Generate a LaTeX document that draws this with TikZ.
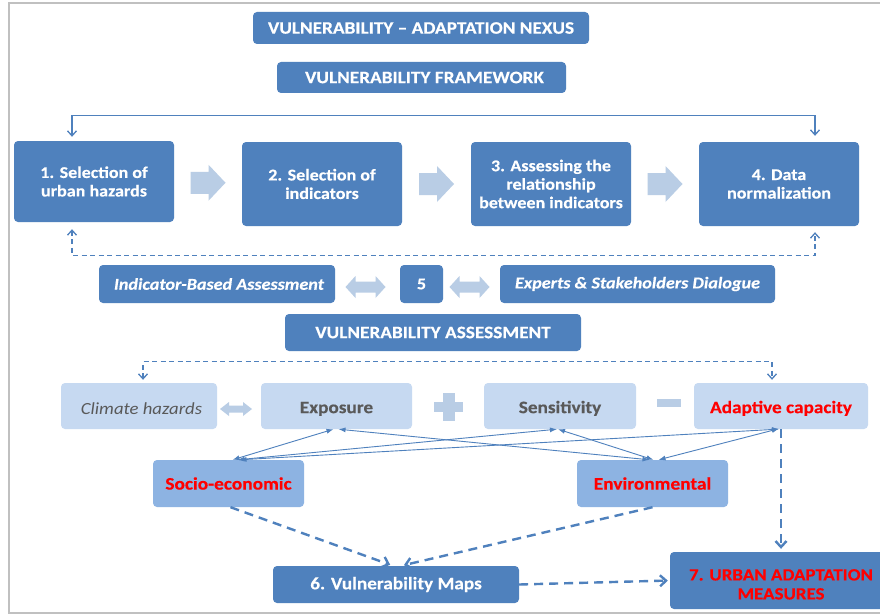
\documentclass[tikz,border=0pt]{standalone}
\usepackage{fontspec}
\setmainfont{Carlito}[FakeStretch=1.1, BoldFeatures={FakeBold=0.3}, BoldItalicFeatures={FakeBold=0.3}]
\usetikzlibrary{arrows.meta,calc}
\definecolor{dblue}{HTML}{4F81BD}
\definecolor{larrow}{HTML}{B9CDE5}
\definecolor{lboxc}{HTML}{C6D9F1}
\definecolor{mboxc}{HTML}{8DB3E2}
\definecolor{greyt}{HTML}{595959}
\definecolor{framec}{HTML}{C0C0C0}
\definecolor{redt}{HTML}{FF0000}
\newcommand{\lowr}[1]{\rule{0pt}{#1}}
\begin{document}
\begin{tikzpicture}[x=1pt,y=-1pt,
  dbox/.style={fill=dblue, rounded corners=4pt, text=white, font=\bfseries\fontsize{16.4}{18.5}\selectfont, align=center, inner sep=0pt},
  tbox/.style={dbox, font=\bfseries\fontsize{17.5}{19}\selectfont},
  ibox/.style={dbox, font=\bfseries\itshape\fontsize{16.5}{18}\selectfont},
  lbox/.style={fill=lboxc, rounded corners=4pt, text=greyt, font=\bfseries\fontsize{17.5}{19}\selectfont, inner sep=0pt},
  mbox/.style={fill=mboxc, rounded corners=4pt, text=redt, font=\bfseries\fontsize{17.6}{19}\selectfont, inner sep=0pt},
  tconn/.style={draw=dblue, line width=0.9pt, {Latex[length=7pt,width=5pt]}-{Latex[length=7pt,width=5pt]}},
  fconn/.style={draw=dblue, line width=1.3pt, {Straight Barb[length=5pt,width=9pt]}-{Straight Barb[length=5pt,width=9pt]}},
  dconn/.style={fconn, dash pattern=on 5pt off 3.5pt},
  bconn/.style={draw=dblue, line width=2.4pt, dash pattern=on 9pt off 6pt, -{Straight Barb[length=6pt,width=11pt]}},
]
\useasboundingbox (0,0) rectangle (880,615);
\clip (0,0) rectangle (880,615);
\fill[white] (0,0) rectangle (880,615);
\draw[framec, line width=1.5pt] (9,3) rectangle (905,613);

% titles
\node[tbox, minimum width=336pt, minimum height=32pt] (t1) at (421,28) {VULNERABILITY -- ADAPTATION NEXUS};
\node[tbox, minimum width=289pt, minimum height=31pt] (t2) at (421.5,77.5) {\hspace*{6pt}VULNERABILITY FRAMEWORK};

% step boxes
\node[dbox, minimum width=160pt, minimum height=81pt] (b1) at (94,181.5) {1. Selection of\\urban hazards};
\node[dbox, minimum width=160pt, minimum height=84pt] (b2) at (322,184) {2. Selection of\\indicators};
\node[dbox, minimum width=160pt, minimum height=84pt] (b3) at (551,184) {3. Assessing the\\relationship\\between indicators};
\node[dbox, minimum width=160pt, minimum height=84pt] (b4) at (779,184) {4. Data\\normalization};

% block arrows between steps
\foreach \a/\b in {b1/b2,b2/b3,b3/b4}{
  \fill[larrow] ($(\a.east)!0.5!(\b.west)$) ++(-17.5,-11) -- ++(18,0) -- ++(0,-7) -- ++(17,18) -- ++(-17,18) -- ++(0,-7) -- ++(-18,0) -- cycle;
}

% loops
\draw[fconn, shorten <=4pt, shorten >=6pt] ([xshift=-22pt]b1.north) -- ++(0,-25) -| ([xshift=36pt]b4.north);
\draw[dconn, shorten <=7pt, shorten >=6pt] ([xshift=-22pt]b1.south) -- ++(0,33) -| ([xshift=36pt]b4.south);

% row 5
\node[ibox, minimum width=236pt, minimum height=38pt] (ind) at (217,284) {\hspace*{4pt}Indicator-Based Assessment};
\node[dbox, minimum width=43pt, minimum height=38pt] (five) at (421.5,284) {5};
\node[ibox, minimum width=275pt, minimum height=38pt] (exd) at (637.5,284) {Experts \& Stakeholders Dialogue};
\foreach \a/\b in {ind/five,five/exd}{
  \fill[larrow] ($(\a.east)!0.5!(\b.west)+(-2,3)$) ++(-20,0) -- ++(10,-11) -- ++(0,5.5) -- ++(20,0) -- ++(0,-5.5) -- ++(10,11) -- ++(-10,11) -- ++(0,-5.5) -- ++(-20,0) -- ++(0,5.5) -- cycle;
}

\node[tbox, minimum width=296pt, minimum height=37pt] (va) at (433,332.5) {VULNERABILITY ASSESSMENT};

% vulnerability components
\node[lbox, minimum width=156pt, minimum height=46pt, font=\itshape\fontsize{17}{19}\selectfont] (ch) at (139,406) {\lowr{17pt}\hspace*{5pt}Climate hazards};
\node[lbox, minimum width=151pt, minimum height=46pt] (ex) at (336.5,406) {\lowr{17pt}Exposure};
\node[lbox, minimum width=152pt, minimum height=46pt] (se) at (560,406) {\lowr{17pt}Sensitivity};
\node[lbox, minimum width=174pt, minimum height=46pt, text=redt] (ac) at (781,406) {\lowr{17pt}Adaptive capacity};

\fill[larrow] ($(ch.east)!0.5!(ex.west)+(-3,3)$) ++(-16,0) -- ++(9,-7) -- ++(0,3.5) -- ++(14,0) -- ++(0,-3.5) -- ++(9,7) -- ++(-9,7) -- ++(0,-3.5) -- ++(-14,0) -- ++(0,3.5) -- cycle;
\fill[larrow] ($(ex.east)!0.5!(se.west)+(0.5,1)$) ++(-14.5,-5) rectangle ++(29,10);
\fill[larrow] ($(ex.east)!0.5!(se.west)+(0.5,1)$) ++(-6,-14) rectangle ++(12,28);
\fill[larrow] ($(se.east)!0.5!(ac.west)+(4,-3)$) ++(-12,-4) rectangle ++(24,8);

\draw[dconn, shorten <=3pt, shorten >=3pt] ([xshift=4pt]ch.north) -- ++(0,-21) -| ([xshift=-9pt]ac.north);

% socio / environmental
\node[mbox, minimum width=151pt, minimum height=47pt] (so) at (228.5,483.5) {Socio-economic};
\node[mbox, minimum width=151pt, minimum height=47pt] (en) at (652.5,483.5) {Environmental};

\draw[tconn] ([xshift=-3pt]ex.south) -- ([xshift=4pt]so.north);
\draw[tconn] ([xshift=-3pt]se.south) -- ([xshift=9pt]so.north);
\draw[tconn, shorten <=-2pt] ([xshift=-4pt]ac.south) -- ([xshift=11pt]so.north);
\draw[tconn] ([xshift=2pt]ex.south) -- ([xshift=-3pt]en.north);
\draw[tconn] ([xshift=-2pt]se.south) -- ([xshift=1pt]en.north);
\draw[tconn, shorten <=-2pt] ([xshift=-4pt]ac.south) -- ([xshift=6pt]en.north);

% maps and measures
\node[dbox, minimum width=246pt, minimum height=37pt, font=\bfseries\fontsize{17.5}{19}\selectfont] (m6) at (396,584.5) {6. Vulnerability Maps};
\node[dbox, minimum width=222pt, minimum height=57pt, text=redt, font=\bfseries\fontsize{17.2}{19}\selectfont] (u7) at (781,580.5) {\lowr{19pt}7. URBAN ADAPTATION\\MEASURES};

\draw[bconn, shorten >=3pt] ([xshift=2pt]so.south) -- ([xshift=-3pt]m6.north);
\draw[bconn, shorten >=3pt] (en.south) -- ([xshift=5pt]m6.north);
\draw[bconn, shorten >=3pt] (ac.south) -- (u7.north);
\draw[bconn, shorten >=2pt] (m6.east) -- (u7.west);
\end{tikzpicture}
\end{document}
